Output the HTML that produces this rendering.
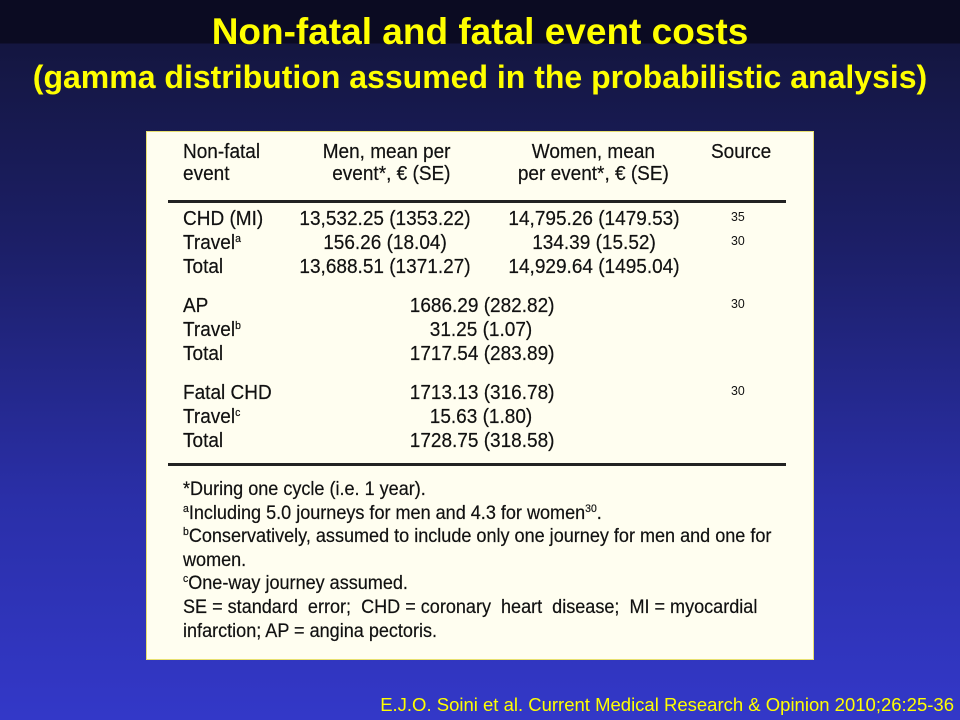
<!DOCTYPE html><html><head><style>
body{margin:0;width:960px;height:720px;overflow:hidden;font-family:"Liberation Sans",sans-serif;
background:linear-gradient(#0b0b22 0,#0b0b22 43px,#141640 44px,#1c1f68 250px,#2a2fa8 500px,#3338c8 720px);position:relative}
.t{position:absolute;color:#ff0;font-weight:bold;white-space:nowrap;left:0;width:960px;text-align:center}
.box{position:absolute;left:146px;top:131px;width:666px;height:527px;background:#fffef0;border:1px solid #e8e070}
.x{position:absolute;white-space:nowrap;font-size:20px;color:#111;transform:scaleX(.95);transform-origin:0 0;line-height:22px;-webkit-text-stroke:0.2px #111}
.cc{transform-origin:50% 0}
.r{position:absolute;background:#222}
sup{font-size:11px;vertical-align:7px;line-height:0}
.s{font-size:13px;-webkit-text-stroke:0}
</style></head><body>
<div class="t" style="top:11px;font-size:37px">Non-fatal and fatal event costs</div>
<div class="t" style="top:59px;font-size:32px">(gamma distribution assumed in the probabilistic analysis)</div>
<div class="box"></div>
<div class="x" style="left:183px;top:141px">Non-fatal<br>event</div>
<div class="x" style="left:308px;top:141px;text-align:right;width:150px">Men, mean per<br>event*, € (SE)</div>
<div class="x" style="left:505px;top:141px;text-align:center;width:186px">Women, mean<br>per event*, € (SE)</div>
<div class="x" style="left:711px;top:141px">Source</div>
<div class="r" style="left:168px;top:200px;width:618px;height:3px"></div>
<div class="x" style="left:183px;top:207px;line-height:24px">CHD (MI)<br>Travel<sup>a</sup><br>Total</div>
<div class="x cc" style="left:285px;top:207px;line-height:24px;text-align:center;width:200px">13,532.25 (1353.22)<br>156.26 (18.04)<br>13,688.51 (1371.27)</div>
<div class="x cc" style="left:494px;top:207px;line-height:24px;text-align:center;width:200px">14,795.26 (1479.53)<br>134.39 (15.52)<br>14,929.64 (1495.04)</div>
<div class="x s" style="left:731px;top:206px">35</div>
<div class="x s" style="left:731px;top:230px">30</div>
<div class="x" style="left:183px;top:294px;line-height:24px">AP<br>Travel<sup>b</sup><br>Total</div>
<div class="x cc" style="left:406px;top:294px;line-height:24px;text-align:center;width:150px">1686.29 (282.82)<br>31.25 (1.07)<br>1717.54 (283.89)</div>
<div class="x s" style="left:731px;top:293px">30</div>
<div class="x" style="left:183px;top:381px;line-height:24px">Fatal CHD<br>Travel<sup>c</sup><br>Total</div>
<div class="x cc" style="left:406px;top:381px;line-height:24px;text-align:center;width:150px">1713.13 (316.78)<br>15.63 (1.80)<br>1728.75 (318.58)</div>
<div class="x s" style="left:731px;top:380px">30</div>
<div class="r" style="left:168px;top:463px;width:618px;height:3px"></div>
<div class="x" style="left:183px;top:478px;font-size:19px;line-height:23.6px">*During one cycle (i.e. 1 year).<br><sup>a</sup>Including 5.0 journeys for men and 4.3 for women<sup>30</sup>.<br><sup>b</sup>Conservatively, assumed to include only one journey for men and one for<br>women.<br><sup>c</sup>One-way journey assumed.<br>SE = standard &nbsp;error; &nbsp;CHD = coronary &nbsp;heart &nbsp;disease; &nbsp;MI = myocardial<br>infarction; AP = angina pectoris.</div>
<div style="position:absolute;right:6px;top:694px;color:#ff0;font-size:18.5px;white-space:nowrap">E.J.O. Soini et al. Current Medical Research &amp; Opinion 2010;26:25-36</div>
</body></html>
